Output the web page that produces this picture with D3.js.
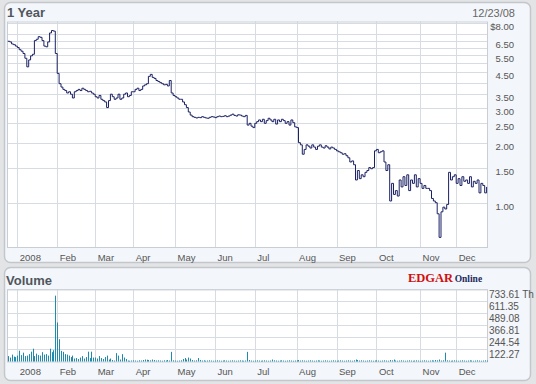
<!DOCTYPE html>
<html><head><meta charset="utf-8">
<script src="https://cdn.jsdelivr.net/npm/d3@7"></script>
<style>
html,body{margin:0;padding:0;background:#e3e4e6;}
svg{display:block;}
</style></head>
<body><svg id="c" width="536" height="384"></svg>
<script>
// ---- data ----
const titleText = "1 Year";
const dateText = "12/23/08";
const volumeTitle = "Volume";
// daily closes, trading days from Dec 24 2007 to Dec 23 2008
const closes = [
6.45,6.40,6.25,6.20,6.10,6.00,5.85,5.75,5.60,5.30,
4.80,5.20,5.45,5.55,6.50,6.60,6.80,6.75,6.50,6.10,
6.05,6.40,7.10,7.30,7.25,5.60,4.45,3.95,3.80,3.70,
3.65,3.55,3.60,3.50,3.35,3.60,3.65,3.70,3.65,3.75,
3.70,3.65,3.60,3.62,3.55,3.50,3.40,3.35,3.45,3.30,
3.25,3.20,3.00,3.25,3.50,3.40,3.30,3.35,3.50,3.30,
3.35,3.50,3.55,3.40,3.45,3.60,3.60,3.70,3.75,3.65,
3.70,3.85,3.90,3.95,4.30,4.40,4.25,4.20,4.10,4.05,
4.00,3.95,3.90,3.92,3.85,4.10,3.55,3.45,3.40,3.35,
3.30,3.30,3.20,3.10,3.00,2.85,2.75,2.70,2.68,2.66,
2.68,2.67,2.70,2.68,2.66,2.65,2.68,2.70,2.69,2.67,
2.70,2.72,2.70,2.71,2.73,2.70,2.72,2.75,2.78,2.74,
2.72,2.76,2.75,2.72,2.70,2.74,2.45,2.50,2.42,2.38,
2.50,2.55,2.60,2.55,2.62,2.50,2.58,2.65,2.60,2.55,
2.62,2.48,2.60,2.55,2.62,2.58,2.50,2.55,2.45,2.60,
2.52,2.40,2.38,2.00,1.95,1.75,1.85,1.95,1.92,1.88,
1.95,1.90,1.85,1.92,1.95,1.90,1.88,1.93,1.90,1.86,
1.90,1.88,1.85,1.82,1.80,1.78,1.75,1.76,1.72,1.68,
1.60,1.62,1.55,1.30,1.45,1.32,1.38,1.35,1.42,1.45,
1.50,1.48,1.50,1.82,1.85,1.78,1.80,1.82,1.60,1.45,
1.55,1.02,1.25,1.10,1.15,1.08,1.30,1.20,1.35,1.22,
1.38,1.15,1.30,1.25,1.38,1.20,1.32,1.25,1.18,1.22,
1.18,1.18,1.15,1.05,1.02,1.00,0.88,0.67,0.90,0.95,
0.93,0.98,1.42,1.30,1.35,1.38,1.25,1.32,1.22,1.35,
1.28,1.30,1.25,1.35,1.20,1.28,1.25,1.30,1.12,1.25,
1.22,1.12,1.20];
// daily volume, thousands of shares
const volumes = [
55,40,70,50,45,60,110,65,90,55,
60,75,100,130,55,80,65,60,95,70,
75,60,130,95,115,670,397,227,108,98,
75,70,60,45,60,30,35,25,40,55,
30,45,100,35,100,40,40,30,55,35,
25,45,60,20,30,15,10,85,60,20,
75,40,25,10,8,10,12,10,8,12,
10,15,20,18,15,12,20,15,10,12,
10,8,12,10,15,10,98,12,10,8,
10,12,25,35,20,40,30,15,10,12,
35,15,10,12,8,10,12,10,8,10,
12,10,8,10,12,10,8,10,12,10,
8,10,12,10,8,10,98,15,10,8,
10,12,10,8,10,12,10,8,10,20,
12,10,8,10,12,10,8,10,12,10,
8,10,12,15,10,12,10,8,10,12,
10,8,10,12,10,8,10,12,10,8,
10,12,10,8,10,12,10,8,10,12,
10,8,12,20,15,10,12,10,8,10,
12,10,8,10,12,10,8,10,12,10,
8,15,12,20,10,8,10,12,10,8,
10,12,10,8,10,12,10,8,10,12,
10,8,10,12,10,15,12,20,10,12,
90,12,10,8,10,12,10,8,10,12,
10,8,10,12,10,8,10,12,10,8,
10,12,10];
// month tick labels and the trading-day index where each month starts
const monthLabels = ["2008","Feb","Mar","Apr","May","Jun","Jul","Aug","Sep","Oct","Nov","Dec"];
const monthStartIdx = [5,26,46,66,88,109,130,152,173,194,217,236];
// price grid & labels
const priceGrid = [8,7,6.5,6,5.5,5,4.5,4,3.5,3,2.5,2,1.5,1];
const priceTicks = [8,6.5,5.5,4.5,3.5,3,2.5,2,1.5,1];
const priceTickLabels = ["$8.00","6.50","5.50","4.50","3.50","3.00","2.50","2.00","1.50","1.00"];
// volume ticks
const volTicks = [733.61,611.35,489.08,366.81,244.54,122.27];
const volTickLabels = ["733.61 Th","611.35","489.08","366.81","244.54","122.27"];

// ---- drawing ----
const svg = d3.select("#c");
const font = "Arial, 'Liberation Sans', sans-serif";

// panels
svg.append("rect").attr("x",4.5).attr("y",2.5).attr("width",526).attr("height",260)
  .attr("rx",6).attr("fill","#f3f6fa").attr("stroke","#c3c6ca").attr("stroke-width",1.5);
svg.append("rect").attr("x",4.5).attr("y",267.5).attr("width",526).attr("height",113)
  .attr("rx",6).attr("fill","#f3f6fa").attr("stroke","#c3c6ca").attr("stroke-width",1.5);

const x = d3.scaleLinear().domain([0, closes.length-1]).range([7.8, 486.6]);
const y = d3.scaleLog().domain([1,8]).range([202.7,22.6]);
const yv = d3.scaleLinear().domain([0,733.61]).range([361.5,289.4]);

const P = {l:7, r:488, t:21.5, b:248};
const V = {l:7, r:488, t:289.4, b:362.5};

// plot backgrounds
svg.append("rect").attr("x",P.l).attr("y",P.t).attr("width",P.r-P.l).attr("height",P.b-P.t).attr("fill","#fff");
svg.append("rect").attr("x",V.l).attr("y",V.t).attr("width",V.r-V.l).attr("height",V.b-V.t).attr("fill","#fff");

const gridCol = "#d7dbe2";
// price grid
svg.append("g").selectAll("line").data(priceGrid).join("line")
  .attr("x1",P.l).attr("x2",P.r).attr("y1",d=>Math.round(y(d))+0.5).attr("y2",d=>Math.round(y(d))+0.5)
  .attr("stroke",gridCol).attr("stroke-width",1);
svg.append("g").selectAll("line").data(monthStartIdx).join("line")
  .attr("x1",d=>Math.round(x(d))+0.5).attr("x2",d=>Math.round(x(d))+0.5).attr("y1",P.t).attr("y2",P.b)
  .attr("stroke",gridCol).attr("stroke-width",1);
// volume grid
svg.append("g").selectAll("line").data(volTicks).join("line")
  .attr("x1",V.l).attr("x2",V.r).attr("y1",d=>Math.round(yv(d))+0.5).attr("y2",d=>Math.round(yv(d))+0.5)
  .attr("stroke",gridCol).attr("stroke-width",1);
svg.append("g").selectAll("line").data(monthStartIdx).join("line")
  .attr("x1",d=>Math.round(x(d))+0.5).attr("x2",d=>Math.round(x(d))+0.5).attr("y1",V.t).attr("y2",V.b)
  .attr("stroke",gridCol).attr("stroke-width",1);

// plot borders
svg.append("rect").attr("x",P.l+0.5).attr("y",P.t+0.5).attr("width",P.r-P.l-1).attr("height",P.b-P.t-1)
  .attr("fill","none").attr("stroke","#c9cdd4");
svg.append("rect").attr("x",V.l+0.5).attr("y",V.t+0.5).attr("width",V.r-V.l-1).attr("height",V.b-V.t-1)
  .attr("fill","none").attr("stroke","#c9cdd4");

// price line
const line = d3.line().x((d,i)=>x(i)).y(d=>y(d)).curve(d3.curveStepAfter);
svg.append("path").datum(closes).attr("d",line).attr("fill","none")
  .attr("stroke","#1b2163").attr("stroke-width",1);

// volume bars
svg.append("g").selectAll("rect").data(volumes).join("rect")
  .attr("x",(d,i)=>Math.round(x(i))).attr("width",1)
  .attr("y",d=>yv(d)).attr("height",d=>Math.max(0.8, yv(0)-yv(d)))
  .attr("fill","#1d8aae");

// titles
svg.append("text").attr("x",7).attr("y",17).text(titleText)
  .attr("font-family",font).attr("font-weight","bold").attr("font-size",13).attr("fill","#50565d");
svg.append("text").attr("x",6).attr("y",285).text(volumeTitle)
  .attr("font-family",font).attr("font-weight","bold").attr("font-size",13).attr("fill","#50565d");
svg.append("text").attr("x",515).attr("y",17.3).attr("text-anchor","end").text(dateText)
  .attr("font-family",font).attr("font-size",11).attr("fill","#666");

// price axis labels
svg.append("g").selectAll("text").data(priceTicks).join("text")
  .attr("x",514).attr("y",d=>y(d)+7).attr("text-anchor","end")
  .text((d,i)=>priceTickLabels[i])
  .attr("font-family",font).attr("font-size",9.5).attr("fill","#555");
// volume axis labels
svg.append("g").selectAll("text").data(volTicks).join("text")
  .attr("x",489).attr("y",d=>yv(d)+9).text((d,i)=>volTickLabels[i])
  .attr("font-family",font).attr("font-size",10).attr("fill","#555");

// month labels
[260.5, 375].forEach(by=>{
  svg.append("g").selectAll("text").data(monthStartIdx).join("text")
    .attr("x",d=>x(d)+2.5).attr("y",by).text((d,i)=>monthLabels[i])
    .attr("font-family",font).attr("font-size",9.5).attr("fill","#555");
});

// EDGAR Online logo
const logo = svg.append("text").attr("x",408).attr("y",282)
  .attr("font-family","'Liberation Serif','DejaVu Serif',serif").attr("font-weight","bold");
logo.append("tspan").text("EDGAR").attr("font-size",12.5).attr("fill","#d01010");
logo.append("tspan").text("Online").attr("font-size",9.5).attr("fill","#1c2a5c").attr("dx",1.5);
</script></body></html>
